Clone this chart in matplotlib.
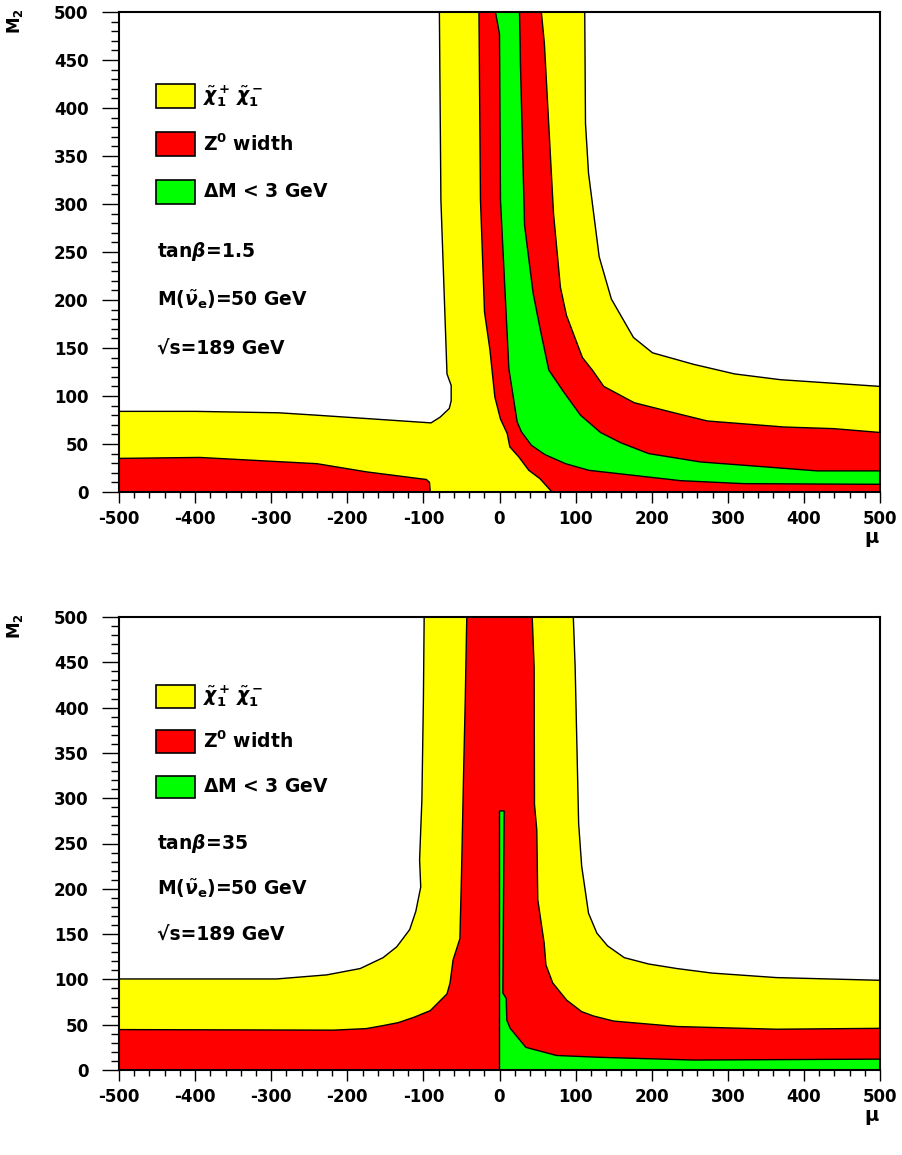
import matplotlib
matplotlib.use("Agg")
import matplotlib.pyplot as plt
from matplotlib.patches import Rectangle
from matplotlib.ticker import MultipleLocator

plt.rcParams['font.family'] = ['DejaVu Sans']
plt.rcParams['font.weight'] = 'bold'
plt.rcParams['axes.unicode_minus'] = False

YELLOW = '#ffff00'
RED = '#ff0000'
GREEN = '#00ff00'

# ---- tan(beta) = 1.5 ----
# chargino region, outer edge: left band + left side of the vertical strip
chi_left_mu = [-500, -400, -290, -240, -90, -78, -66, -63.5, -63.5, -69, -77, -79]
chi_left_m2 = [84, 84, 82.5, 80, 72, 78, 87, 95, 111, 123, 304, 500]
# chargino region, outer edge on the right (top -> mu=500)
chi_right_mu = [112, 113, 117, 131, 147, 176, 201, 255, 309, 369, 500]
chi_right_m2 = [500, 384, 332, 245, 201, 161, 145, 133, 123, 117, 110]

# Z0 width, small patch at negative mu
zw_left_mu = [-500, -394, -240, -175, -96, -92, -91]
zw_left_m2 = [35, 36, 29.5, 21, 13, 10, 0]
# Z0 width band: inner edge (top -> M2=0) and outer edge (top -> mu=500)
zw_in_mu = [-27, -25, -19.7, -12.7, -6.1, 1.3, 10.1, 13.6, 25.4, 38.5, 53, 69]
zw_in_m2 = [500, 304, 187.5, 149, 99, 76, 61, 47, 36.5, 22.6, 14, 0]
zw_out_mu = [55, 59, 71, 80, 88, 109, 122, 137, 177, 234, 273, 374, 439, 500]
zw_out_m2 = [500, 467, 290, 213.5, 184, 140, 127, 110, 93, 81.6, 74, 67.7, 66, 62]

# Delta M < 3 GeV band: inner and outer edges (top -> mu=500)
dm_in_mu = [-5.3, 0, 1.3, 12.3, 23.2, 28.9, 42, 59.6, 86.7, 117.4, 238, 321, 500]
dm_in_m2 = [500, 477, 304, 128.5, 73, 62.5, 48.6, 39, 29.5, 22.6, 11.8, 8.7, 8]
dm_out_mu = [26.3, 27.6, 32.9, 44.2, 53.9, 64.8, 84.5, 106.4, 132.7, 159, 196, 264, 352, 417, 500]
dm_out_m2 = [500, 443, 278, 207, 168, 127, 104, 80, 62, 51.4, 40, 31.3, 26, 22, 22]

# ---- tan(beta) = 35 ----
chi35_left_mu = [-500, -293, -227, -183, -153, -135, -118, -110, -103.5, -105, -102, -100, -99]
chi35_left_m2 = [100.5, 100.5, 105, 112, 124, 136, 155, 175, 202, 232, 298, 409, 500]
chi35_right_mu = [97, 99.4, 104, 108, 117, 128, 142, 164, 196, 233, 279, 364, 500]
chi35_right_m2 = [500, 445, 272, 225, 173, 151, 137, 124, 117, 112, 107, 102, 99]

zw35_left_mu = [-500, -218, -175, -153, -133, -113, -91, -69, -65, -61, -52, -50, -47, -45, -43]
zw35_left_m2 = [44.6, 44, 45.7, 49, 52.3, 58, 65.5, 84, 96, 121.5, 145, 213.5, 335, 409, 500]
zw35_right_mu = [43, 45.5, 46, 49, 50.3, 58.7, 61, 70, 88.4, 108, 123.5, 150, 233, 364, 500]
zw35_right_m2 = [500, 445, 293, 265, 188, 140, 116, 96, 77, 64.4, 59.6, 54, 48, 45, 46]

dm35_mu = [0, 0, 6.1, 5.3, 4.4, 8.8, 9.6, 14, 34.6, 75, 132, 255, 500, 500]
dm35_m2 = [0, 286, 286, 188, 85, 79, 55, 46, 25, 16, 14, 11, 12, 0]

legend_labels = [r'$\tilde{\chi}_1^+\,\tilde{\chi}_1^-$', r'Z$^\mathbf{0}$ width', r'$\Delta$M < 3 GeV']
legend_colors = [YELLOW, RED, GREEN]

fig = plt.figure(figsize=(9.02, 11.55), dpi=100)
ax1 = fig.add_axes([119 / 902, 1 - 492 / 1155, 761 / 902, 480 / 1155])
ax2 = fig.add_axes([119 / 902, 1 - 1070 / 1155, 761 / 902, 453 / 1155])

TXT = 13.5


def region(ax, mu, m2, color):
    ax.fill(mu, m2, facecolor=color, edgecolor='black', linewidth=1.0, zorder=2)


def setup(ax, tanb, top_px):
    ax.set_xlim(-500, 500)
    ax.set_ylim(0, 500)
    ax.xaxis.set_major_locator(MultipleLocator(100))
    ax.xaxis.set_minor_locator(MultipleLocator(20))
    ax.yaxis.set_major_locator(MultipleLocator(50))
    ax.yaxis.set_minor_locator(MultipleLocator(10))
    ax.tick_params(axis='x', which='major', direction='out', length=8, width=1, pad=5, labelsize=12)
    ax.tick_params(axis='x', which='minor', direction='out', length=4, width=1)
    ax.tick_params(axis='y', which='major', direction='out', length=12, width=1, pad=10, labelsize=12)
    ax.tick_params(axis='y', which='minor', direction='out', length=6, width=1)
    for lab in ax.get_xticklabels() + ax.get_yticklabels():
        lab.set_fontweight('bold')
    for sp in ax.spines.values():
        sp.set_linewidth(1.5)
        sp.set_zorder(5)

    # legend boxes drawn inside the frame
    for i, (lab, col) in enumerate(zip(legend_labels, legend_colors)):
        y0 = 400 - 50 * i
        ax.add_patch(Rectangle((-451, y0), 51, 25, facecolor=col, edgecolor='black',
                               linewidth=1.2, zorder=3))
        ax.text(-389, y0 + 12.5, lab, fontsize=TXT, fontweight='bold', va='center', ha='left')

    ax.text(-450, 250, r'tan$\beta$=' + tanb, fontsize=TXT, fontweight='bold', va='center')
    ax.text(-450, 200, r'M($\tilde{\nu}_\mathrm{e}$)=50 GeV', fontsize=TXT, fontweight='bold', va='center')
    ax.text(-450, 150, '√s=189 GeV', fontsize=TXT, fontweight='bold', va='center')

    fig.text(15 / 902, 1 - (top_px + 9) / 1155, r'M$_\mathbf{2}$', rotation=90,
             fontsize=12, fontweight='bold', ha='center', va='center')
    ax.annotate('μ', xy=(1.0, 0.0), xycoords='axes fraction', xytext=(-6, -33),
                textcoords='offset points', fontsize=14, fontweight='bold',
                ha='center', va='center')


# tan(beta) = 1.5
region(ax1, [-500] + chi_left_mu + chi_right_mu + [500],
       [0] + chi_left_m2 + chi_right_m2 + [0], YELLOW)
region(ax1, [-500] + zw_left_mu, [0] + zw_left_m2, RED)
region(ax1, zw_in_mu + [500] + zw_out_mu[::-1], zw_in_m2 + [0] + zw_out_m2[::-1], RED)
region(ax1, dm_in_mu + dm_out_mu[::-1], dm_in_m2 + dm_out_m2[::-1], GREEN)
setup(ax1, '1.5', 12)

# tan(beta) = 35
region(ax2, [-500] + chi35_left_mu + chi35_right_mu + [500],
       [0] + chi35_left_m2 + chi35_right_m2 + [0], YELLOW)
region(ax2, [-500] + zw35_left_mu + zw35_right_mu + [500],
       [0] + zw35_left_m2 + zw35_right_m2 + [0], RED)
region(ax2, dm35_mu, dm35_m2, GREEN)
setup(ax2, '35', 617)

fig.savefig('out.png', dpi=100)
